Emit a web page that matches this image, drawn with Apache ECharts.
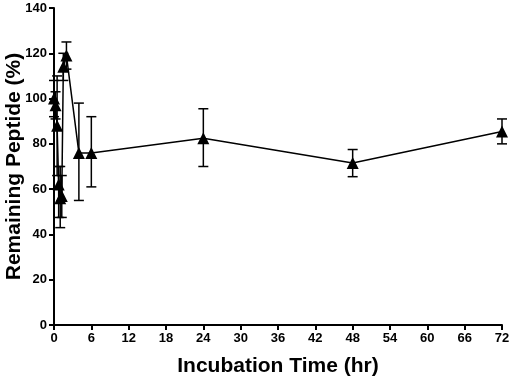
<!DOCTYPE html>
<html>
<head>
<meta charset="utf-8">
<script src="https://cdn.jsdelivr.net/npm/echarts@6/dist/echarts.min.js"></script>
<style>
  html, body { margin: 0; padding: 0; background: #fff; }
  #chart { width: 510px; height: 378px; }
</style>
</head>
<body>
<div id="chart"></div>
<script>
// incubation time (hr) and remaining peptide (%)
var times = [0, 0.25, 0.5, 0.75, 1, 1.25, 1.5, 2, 4, 6, 24, 48, 72];
var means = [100, 97, 88, 62, 56, 57, 114, 119, 76, 76, 82.5, 71.5, 85.5];
var errLow = [92, 91, 66, 47.5, 43, 47.5, 108, 113, 55, 61, 70, 65.5, 80];
var errHigh = [108, 103, 110, 70, 70, 66, 120, 125, 98, 92, 95.5, 77.5, 91];
var xTicks = [0, 6, 12, 18, 24, 30, 36, 42, 48, 54, 60, 66, 72];
var yTicks = [0, 20, 40, 60, 80, 100, 120, 140];

var lineData = times.map(function (t, i) { return [t, means[i]]; });
var errData = times.map(function (t, i) { return [t, errLow[i], errHigh[i]]; });

var myChart = echarts.init(document.getElementById('chart'));
var font = 'Liberation Sans, Arial, sans-serif';

myChart.setOption({
  animation: false,
  grid: { left: 54, right: 8, top: 8, bottom: 53, outerBoundsMode: 'none', containLabel: false },
  xAxis: {
    type: 'value',
    min: xTicks[0],
    max: xTicks[xTicks.length - 1],
    interval: 6,
    name: 'Incubation Time (hr)',
    nameLocation: 'middle',
    nameGap: 31,
    nameMoveOverlap: false,
    nameTextStyle: { fontFamily: font, fontWeight: 'bold', fontSize: 21, color: '#000' },
    axisLine: { lineStyle: { color: '#000', width: 2 } },
    axisTick: { length: 5, lineStyle: { color: '#000', width: 2 } },
    axisLabel: { fontFamily: font, fontWeight: 'bold', fontSize: 13, color: '#000', margin: 7 },
    splitLine: { show: false }
  },
  yAxis: {
    type: 'value',
    min: yTicks[0],
    max: yTicks[yTicks.length - 1],
    interval: 20,
    name: 'Remaining Peptide (%)',
    nameLocation: 'middle',
    nameGap: 29,
    nameMoveOverlap: false,
    nameTextStyle: { fontFamily: font, fontWeight: 'bold', fontSize: 21, color: '#000' },
    axisLine: { show: true, lineStyle: { color: '#000', width: 2 } },
    axisTick: { show: true, length: 5, lineStyle: { color: '#000', width: 2 } },
    axisLabel: { fontFamily: font, fontWeight: 'bold', fontSize: 13, color: '#000', margin: 7 },
    splitLine: { show: false }
  },
  series: [
    {
      type: 'custom',
      data: errData,
      z: 2,
      renderItem: function (params, api) {
        var x = api.value(0);
        var lo = api.coord([x, api.value(1)]);
        var hi = api.coord([x, api.value(2)]);
        var w = 5;
        var st = { stroke: '#000', lineWidth: 1.5 };
        return {
          type: 'group',
          children: [
            { type: 'line', shape: { x1: lo[0], y1: lo[1], x2: hi[0], y2: hi[1] }, style: st },
            { type: 'line', shape: { x1: lo[0] - w, y1: lo[1], x2: lo[0] + w, y2: lo[1] }, style: st },
            { type: 'line', shape: { x1: hi[0] - w, y1: hi[1], x2: hi[0] + w, y2: hi[1] }, style: st }
          ]
        };
      }
    },
    {
      type: 'line',
      data: lineData,
      z: 3,
      symbol: 'triangle',
      symbolSize: 12,
      itemStyle: { color: '#000' },
      lineStyle: { color: '#000', width: 1.5 }
    }
  ]
});
</script>
</body>
</html>
